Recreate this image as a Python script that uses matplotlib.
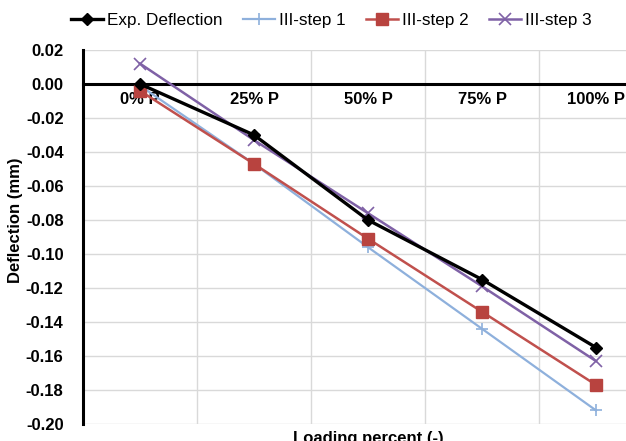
import matplotlib
matplotlib.use("Agg")
import matplotlib.pyplot as plt
import numpy as np

plt.rcParams.update({
    "font.family": ["Liberation Sans", "DejaVu Sans"],
    "font.size": 12,
})

categories = ["0% P", "25% P", "50% P", "75% P", "100% P"]
exp_defl = [0.000, -0.030, -0.080, -0.115, -0.155]
step1 = [-0.001, -0.047, -0.096, -0.144, -0.192]
step2 = [-0.004, -0.047, -0.091, -0.134, -0.177]
step3 = [0.012, -0.033, -0.076, -0.119, -0.163]
y_ticks = [0.02, 0.00, -0.02, -0.04, -0.06, -0.08, -0.10, -0.12, -0.14, -0.16, -0.18, -0.20]

W, H = 626, 441
fig = plt.figure(figsize=(W / 100, H / 100), dpi=100)
# plot area runs past the right edge of the picture, as in the original crop
ax = fig.add_axes([83 / W, 1 - 424 / H, 570 / W, 374 / H])

# move the category axis to y = 0 first (this resets the tick objects)
ax.spines["bottom"].set_position(("data", 0))
ax.spines["bottom"].set_linewidth(2.2)
ax.spines["left"].set_linewidth(2.2)
ax.spines["top"].set_visible(False)
ax.spines["right"].set_visible(False)

x = np.arange(len(categories))
ax.plot(x, step1, color="#8EB0DC", lw=1.6, marker="+", ms=9, mew=1.2,
        label="III-step 1", zorder=3)
ax.plot(x, step2, color="#C0504D", lw=1.8, marker="s", ms=9, mfc="#B8433F",
        mec="#B8433F", label="III-step 2", zorder=3)
ax.plot(x, step3, color="#7F61A6", lw=1.8, marker="x", ms=8, mew=1.2,
        label="III-step 3", zorder=3)
ax.plot(x, exp_defl, color="black", lw=2.4, marker="D", ms=6,
        label="Exp. Deflection", zorder=4)

ax.set_xlim(-0.5, len(categories) - 0.5)
ax.set_ylim(-0.20, 0.02)
ax.set_yticks(y_ticks)
ax.set_yticklabels([f"{v:.2f}" for v in y_ticks])
ax.set_xticks(x)
ax.set_xticklabels(categories)
ax.set_xticks(np.arange(len(categories) + 1) - 0.5, minor=True)
for lab in ax.get_xticklabels() + ax.get_yticklabels():
    lab.set_fontweight("bold")

ax.tick_params(axis="y", length=0, pad=14)
ax.tick_params(axis="x", which="both", length=0, pad=6)

ax.grid(True, axis="y", color="#D9D9D9", lw=1.0, zorder=0)
ax.grid(True, axis="x", which="minor", color="#D9D9D9", lw=1.0, zorder=0)
ax.set_axisbelow(True)

ax.set_ylabel("Deflection (mm)", fontweight="bold")
ax.yaxis.set_label_coords(23 / W, 0.5, transform=fig.transFigure)
fig.text(368 / W, 1 - 431 / H, "Loading percent (-)", ha="center", va="top",
         fontweight="bold")

handles, labels = ax.get_legend_handles_labels()
order = [3, 0, 1, 2]
ax.legend([handles[i] for i in order], [labels[i] for i in order],
          loc="center", bbox_to_anchor=(331 / W, 1 - 20 / H),
          bbox_transform=fig.transFigure, ncol=4, frameon=False,
          handlelength=1.9, handletextpad=0.2, columnspacing=1.2,
          borderaxespad=0, fontsize=12.3)

fig.savefig("out.png", dpi=100)
